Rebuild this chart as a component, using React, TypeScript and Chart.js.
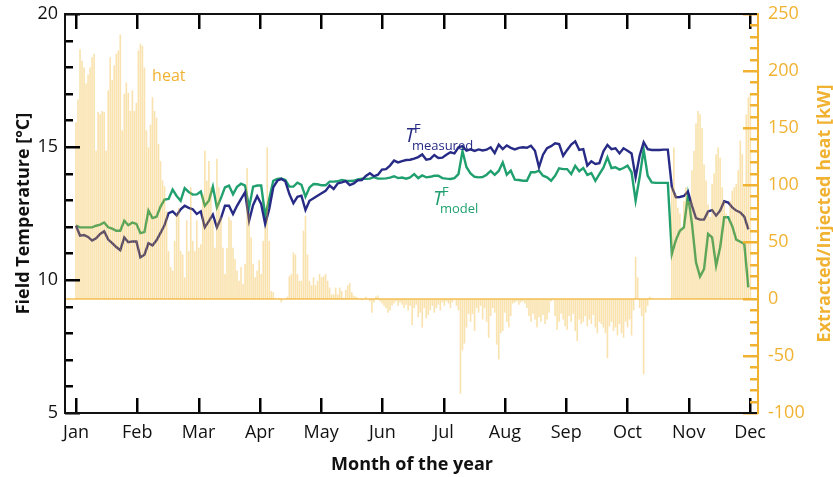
import { useEffect, useRef } from "react";
import { Chart, registerables } from "chart.js";

Chart.register(...registerables);

// Month labels; the x axis runs in days since 1 January, one month = 30.44 days
const months = ["Jan", "Feb", "Mar", "Apr", "May", "Jun", "Jul", "Aug", "Sep", "Oct", "Nov", "Dec"];
const daysPerMonth = 30.44;

// Axis ranges
const tempRange = [5, 20];
const heatRange = [-100, 250];

// Daily extracted (+) / injected (-) heat [kW], day 0 .. 335
const heat = [
  155, 175, 219, 209, 203, 189, 197, 203, 212, 215,
  130, 164, 162, 165, 164, 130, 183, 212, 192, 205,
  215, 218, 232, 148, 180, 190, 181, 165, 183, 165,
  172, 218, 224, 222, 203, 148, 133, 153, 177, 165,
  159, 136, 121, 104, 99, 77, 42, 28, 25, 51,
  75, 80, 42, 39, 19, 69, 42, 98, 51, 42,
  69, 45, 48, 92, 130,
  104, 121, 98, 69, 45, 123, 98, 72, 45, 22,
  45, 72, 69, 45, 35, 25, 16, 28, 13, 31,
  115, 75, 54, 31, 19, 25, 34, 22, 51, 63,
  133, 51, 7, 6, 1,
  0, 1, -3, 0, 0, 2,
  20, 22, 41, 39, 22, 16, 16, 60, 73, 39,
  16, 12, 19, 12, 16, 22, 19, 20, 22, 16,
  10, 4, 4, 10, 4, 10, 7, 1,
  8, 12, 14, 6, 3, 2,
  1, 0, -1, 0, 2, 0, -2, -12, -3, 2,
  3, -2, -4, -6, -8, -12, -10, -6, -4, -2,
  -6, -3, -5, -8, -5, -10, -6, -23, -8, -5,
  -16, -12, -25, -8, -17, -14, -10, -6, -12, -8,
  -5, -10, -3, -6, -2, -4, -8, -3, -1, -6,
  -10, -83,
  -45, -39, -25, -13, -20, -13, -28, -8, -12, -6, -18, -8,
  -20, -34, -15, -8, -12, -40, -53, -30, -28, -12,
  -20, -25, -15, -4, -3, -2, -5, -3, -2, -4,
  -8, -15, -20, -13, -18, -25, -16, -20, -14, -22,
  -18, -12, -2, -1, -15, -27, -20, -13, -18, -24,
  -27, -15, -20, -13, -28, -37, -18, -22, -20, -15,
  -24, -18, -22, -14, -25, -30, -20, -22, -25, -30,
  -52, -24, -20, -28, -25, -32, -22, -30, -34, -20,
  -25, -18, -32, -10,
  37, 19, -8, -15, -66, -12, -6, 2, 1, 0,
  0, 0, 0, 0, 0, 0, 0, 0,
  98, 133, 92, 80, 75, 63, 86, 98, 86, 86,
  113, 130, 154, 165, 162, 150, 118, 104, 83, 72,
  101, 110, 127, 133, 124, 98, 86, 75, 69, 86,
  95, 98, 101, 113, 139, 127, 98, 162, 177, 180,
];

// Field temperatures [°C], one value every 2 days from day 0
const lineStep = 2;
const tMeasured = [
  12.04, 11.67, 11.69, 11.62, 11.48, 11.57, 11.73, 11.83, 11.52, 11.39,
  11.24, 11.12, 11.6, 11.42, 11.45, 11.45, 10.85, 10.95, 11.38, 11.3,
  11.49, 11.77, 12.07, 12.51, 12.58, 12.43, 12.66, 12.79, 12.71, 12.66,
  12.48, 12.58, 11.98,
  12.21, 12.46, 11.98, 12.32, 12.79, 12.79, 12.48, 12.79, 13.05, 13.3,
  12.23, 12.82, 13.15, 12.86, 12.1, 12.67, 13.48, 13.73, 13.8, 13.71,
  13.23, 12.89, 13.13, 13.17, 12.63, 12.98, 13.07, 13.17, 13.26, 13.35,
  13.55, 13.42, 13.63, 13.67,
  13.72, 13.57, 13.63, 13.75, 13.76, 13.91, 14.01, 13.9, 13.96, 14.15,
  14.17, 14.3, 14.49, 14.42, 14.47, 14.51, 14.52, 14.56, 14.62, 14.72,
  14.52, 14.55, 14.7, 14.59, 14.6, 14.71, 14.8, 14.76, 14.99, 15.03,
  14.86, 14.91, 14.85, 14.91, 14.87,
  14.9, 14.99, 14.77, 15.09, 14.92, 15.06, 14.97, 14.91, 14.97, 14.99,
  14.97, 15.05, 14.86, 14.24, 14.71, 14.96, 15.03, 15.14, 15.11, 14.67,
  14.89, 15.09, 15.21, 14.89, 14.92, 14.3, 14.46, 14.36, 14.39, 14.84,
  15.08, 14.92, 14.95, 14.76,
  14.95, 14.86, 14.76, 13.86, 14.67, 15.18, 14.92, 14.89, 14.89, 14.89,
  14.9, 14.9, 13.5, 13.11, 13.12, 13.16, 13.33, 12.79, 12.33, 12.27,
  12.27, 12.58, 12.63, 12.42, 12.61, 12.96, 12.91, 12.73, 12.61, 12.54,
  12.38, 11.9,
];
const tModel = [
  12.04, 11.98, 11.98, 11.98, 11.98, 12.04, 12.08, 12.16, 11.98, 11.93,
  11.85, 11.85, 12.23, 12.06, 12.16, 12.11, 11.76, 11.8, 12.61, 12.33,
  12.38, 12.76, 13.02, 13.05, 13.4, 13.16, 12.98, 13.45, 13.31, 13.21,
  13.22, 13.33, 12.79,
  12.98, 13.51, 12.73, 13.08, 13.48, 13.55, 13.22, 13.5, 13.62, 13.55,
  12.73, 13.51, 13.55, 13.55, 12.42, 13.05, 13.73, 13.8, 13.82, 13.76,
  13.51, 13.51, 13.66, 13.58, 13.13, 13.48, 13.61, 13.6, 13.56, 13.56,
  13.7, 13.7, 13.71, 13.76,
  13.73, 13.72, 13.73, 13.78, 13.81, 13.8, 13.81, 13.87, 13.81, 13.81,
  13.82, 13.85, 13.9, 13.83, 13.85, 13.81, 13.86, 13.98, 13.83, 13.93,
  13.86, 13.88, 13.92, 13.92, 13.83, 13.81, 13.8, 13.83, 13.98, 14.85,
  14.24, 14.01, 13.88, 13.86, 13.87,
  13.96, 14.1, 13.95, 14.1, 14.42, 13.96, 14.11, 13.77, 13.76, 13.73,
  13.73, 14.05, 14.05, 14.11, 13.92, 13.86, 13.73, 13.92, 14.2, 14.17,
  14.17, 13.98, 14.29, 14.09, 14.21, 13.95, 14.02, 13.73, 13.98, 14.22,
  14.61, 14.21, 14.24, 14.15,
  14.21, 14.3, 14.05, 12.98, 13.86, 14.9, 13.92, 13.67, 13.65, 13.65,
  13.65, 13.65, 10.98, 11.5, 11.85, 11.98, 13.2, 12.11, 10.66, 10.13,
  10.41, 11.73, 11.6, 10.54, 11.23, 12.36, 12.36, 12.02, 11.52, 11.44,
  11.35, 9.72,
];

// Text labels placed in data coordinates (day, value)
const heatLabel = { day: 37.8, kw: 191 };
const measuredLabel = { day: 163.4, temp: 15.17 };
const modelLabel = { day: 177.3, temp: 12.82 };

const NAVY = "#272b85";
const GREEN = "#21a06f";
const ORANGE = "#f1b232";
const INK = "#111111";
const FONT = '"Open Sans", "Noto Sans", sans-serif';

// Frame, zero line and tick marks drawn inward on all four edges
const axesPlugin = {
  id: "paperAxes",
  beforeDatasetsDraw(chart: any) {
    const { ctx, chartArea: a, scales } = chart;
    const y0 = Math.round(scales.yR.getPixelForValue(0));
    ctx.save();
    ctx.fillStyle = ORANGE;
    ctx.fillRect(a.left, y0 - 0.6, a.right - a.left, 1.2);
    ctx.restore();
  },
  afterDatasetsDraw(chart: any) {
    const { ctx, chartArea: a, scales } = chart;
    const xS = scales.x;
    const yL = scales.yL;
    const yR = scales.yR;
    const L = Math.round(a.left);
    const R = Math.round(a.right);
    const T = Math.round(a.top);
    const B = Math.round(a.bottom);
    ctx.save();
    ctx.fillStyle = "#000000";
    for (let i = 0; i < months.length; i++) {
      const x = Math.round(xS.getPixelForValue(i * daysPerMonth));
      ctx.fillRect(x - 1, B - 15, 2.5, 15);
      ctx.fillRect(x - 1, T, 2.5, 15);
    }
    for (let v = tempRange[0]; v <= tempRange[1]; v += 1) {
      const y = Math.round(yL.getPixelForValue(v));
      const len = v % 5 === 0 ? 15 : 8;
      ctx.fillRect(L, y - 1, len, 2.5);
    }
    ctx.fillStyle = ORANGE;
    for (let v = heatRange[0]; v <= heatRange[1]; v += 10) {
      const y = Math.round(yR.getPixelForValue(v));
      const len = v % 50 === 0 ? 15 : 8;
      ctx.fillRect(R - len, y - 1, len, 2.5);
    }
    ctx.restore();
  },
  afterDraw(chart: any) {
    const { ctx, chartArea: a, scales } = chart;
    const xS = scales.x;
    const yL = scales.yL;
    const yR = scales.yR;
    const L = Math.round(a.left);
    const R = Math.round(a.right);
    const T = Math.round(a.top);
    const B = Math.round(a.bottom);
    ctx.save();

    // frame: top, left and bottom in black, heat axis in orange
    ctx.fillStyle = INK;
    ctx.fillRect(L - 1, T - 1, R - L, 2);
    ctx.fillRect(L - 1, T - 1, 2, B - T + 2);
    ctx.fillRect(L - 1, B - 1, R - L, 2);
    ctx.fillStyle = ORANGE;
    ctx.fillRect(R - 1, T - 1, 2, B - T + 2);

    // axis titles
    ctx.fillStyle = INK;
    ctx.font = `bold 18px ${FONT}`;
    ctx.textAlign = "center";
    ctx.textBaseline = "alphabetic";
    ctx.fillText("Month of the year", (a.left + a.right) / 2 + 0.5, 470);

    ctx.save();
    ctx.translate(29, (a.top + a.bottom) / 2);
    ctx.rotate(-Math.PI / 2);
    ctx.fillText("Field Temperature [°C]", 0, 0);
    ctx.restore();

    ctx.save();
    ctx.fillStyle = ORANGE;
    ctx.translate(830, (a.top + a.bottom) / 2);
    ctx.rotate(-Math.PI / 2);
    ctx.fillText("Extracted/Injected heat [kW]", 0, 0);
    ctx.restore();

    // series labels
    ctx.textAlign = "left";
    ctx.fillStyle = ORANGE;
    ctx.font = `16px ${FONT}`;
    ctx.fillText("heat", xS.getPixelForValue(heatLabel.day), yR.getPixelForValue(heatLabel.kw));

    const drawT = (lab: { day: number; temp: number }, sub: string, color: string) => {
      const x = xS.getPixelForValue(lab.day);
      const y = yL.getPixelForValue(lab.temp);
      ctx.fillStyle = color;
      ctx.font = `italic 20px ${FONT}`;
      ctx.fillText("T", x, y);
      const w = ctx.measureText("T").width;
      ctx.font = `13px ${FONT}`;
      ctx.fillText("F", x + w - 1, y - 9);
      ctx.fillText(sub, x + w - 3, y + 8);
    };
    drawT(measuredLabel, "measured", NAVY);
    drawT(modelLabel, "model", GREEN);

    ctx.restore();
  },
};

export default function App() {
  const canvasRef = useRef<HTMLCanvasElement | null>(null);

  useEffect(() => {
    const canvas = canvasRef.current;
    if (!canvas) return;

    const heatPoints = heat.map((v, i) => ({ x: i, y: v }));
    const measuredPoints = tMeasured.map((v, i) => ({ x: i * lineStep, y: v }));
    const modelPoints = tModel.map((v, i) => ({ x: i * lineStep, y: v }));

    const chart = new Chart(canvas, {
      type: "bar",
      data: {
        datasets: [
          {
            type: "bar",
            label: "heat",
            data: heatPoints,
            yAxisID: "yR",
            backgroundColor: "rgba(240, 178, 40, 0.38)",
            borderWidth: 0,
            barPercentage: 1,
            categoryPercentage: 0.8,
            order: 0,
          } as any,
          {
            type: "line",
            label: "T measured",
            data: measuredPoints,
            yAxisID: "yL",
            borderColor: NAVY,
            borderWidth: 2.4,
            pointRadius: 0,
            tension: 0,
            order: 1,
          },
          {
            type: "line",
            label: "T model",
            data: modelPoints,
            yAxisID: "yL",
            borderColor: GREEN,
            borderWidth: 2.4,
            pointRadius: 0,
            tension: 0,
            order: 2,
          },
        ],
      },
      options: {
        animation: false,
        responsive: false,
        maintainAspectRatio: false,
        layout: { padding: { top: 14, left: 0, right: 0, bottom: 0 } },
        plugins: { legend: { display: false }, tooltip: { enabled: false } },
        scales: {
          x: {
            type: "linear",
            offset: false,
            min: -5.46,
            max: 338.8,
            grid: { display: false, drawTicks: false },
            border: { display: false },
            ticks: {
              autoSkip: false,
              maxRotation: 0,
              padding: 9,
              color: INK,
              font: { family: FONT, size: 18 },
              callback: (v: any) => months[Math.round(Number(v) / daysPerMonth)] ?? "",
            },
            afterBuildTicks: (s: any) => {
              s.ticks = months.map((_, i) => ({ value: i * daysPerMonth }));
            },
            afterFit: (s: any) => {
              s.height = 64;
              s.paddingLeft = 0;
              s.paddingRight = 0;
            },
          },
          yL: {
            type: "linear",
            position: "left",
            min: tempRange[0],
            max: tempRange[1],
            grid: { display: false, drawTicks: false },
            border: { display: false },
            ticks: { stepSize: 5, padding: 7, color: INK, font: { family: FONT, size: 18 } },
            afterFit: (s: any) => {
              s.width = 65;
              s.paddingTop = 0;
              s.paddingBottom = 0;
            },
          },
          yR: {
            type: "linear",
            position: "right",
            min: heatRange[0],
            max: heatRange[1],
            grid: { display: false, drawTicks: false },
            border: { display: false },
            ticks: { stepSize: 50, padding: 10, color: ORANGE, font: { family: FONT, size: 18 } },
            afterFit: (s: any) => {
              s.width = 75;
              s.paddingTop = 0;
              s.paddingBottom = 0;
            },
          },
        },
      } as any,
      plugins: [axesPlugin],
    });

    return () => chart.destroy();
  }, []);

  return (
    <div style={{ position: "fixed", left: 0, top: 0, width: 833, height: 477, background: "#fff" }}>
      <canvas ref={canvasRef} width={833} height={477} style={{ width: 833, height: 477, display: "block" }} />
    </div>
  );
}
